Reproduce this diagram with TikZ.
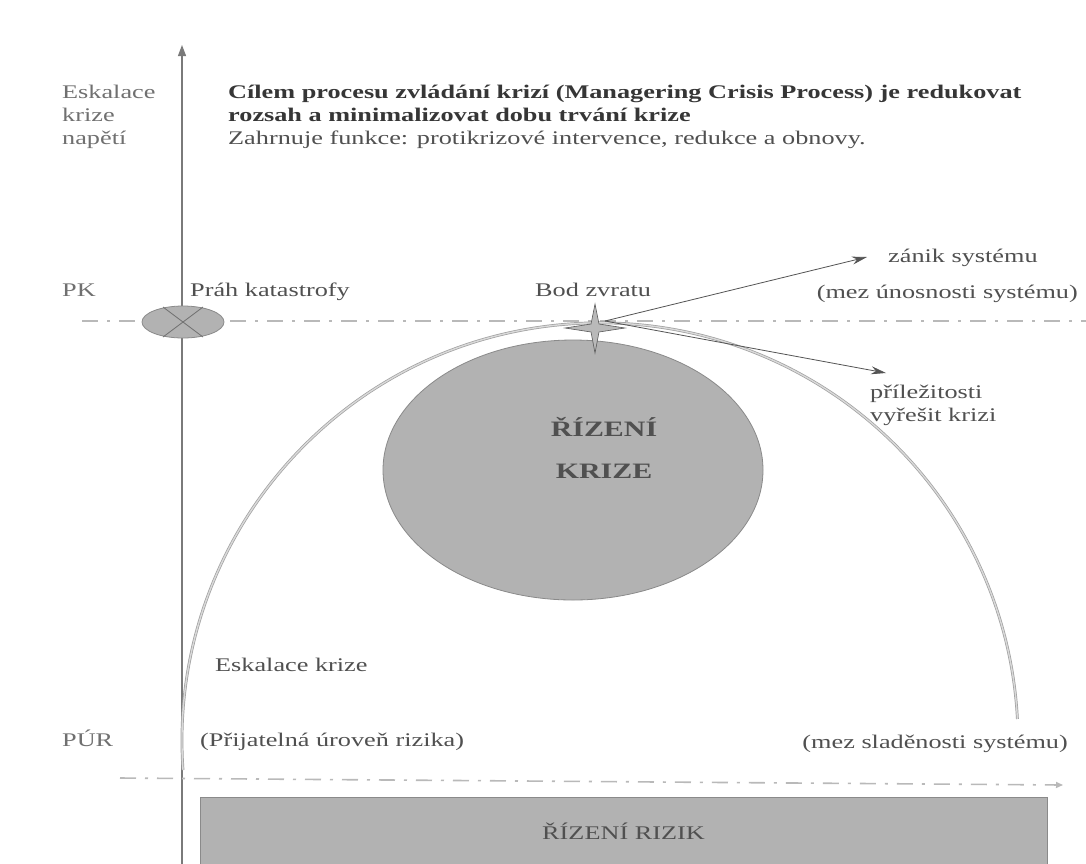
\documentclass[tikz,border=0pt]{standalone}
\usepackage{fontspec}
\setmainfont{Liberation Serif}[FakeStretch=1.36]
\usetikzlibrary{arrows.meta,shapes.geometric,calc}
\definecolor{lightlbl}{HTML}{707070}
\definecolor{midtxt}{HTML}{505050}
\definecolor{darktxt}{HTML}{363636}
\definecolor{linegray}{HTML}{7A7A7A}
\definecolor{fillgray}{HTML}{B2B2B2}
\definecolor{edgegray}{HTML}{8A8A8A}
\begin{document}
\begin{tikzpicture}[x=1pt,y=-1pt,
  txt/.style={font=\fontsize{19.3}{23}\selectfont, inner sep=0pt, anchor=base west, text=midtxt},
  sidelbl/.style={txt, text=lightlbl},
  titletxt/.style={txt, font=\fontsize{19.3}{23}\selectfont\bfseries, text=darktxt},
  axisline/.style={draw=linegray, line width=1.2pt},
  dashdot/.style={draw=gray!55, line width=1.6pt, dash pattern=on 16pt off 9pt on 3pt off 9pt},
  arcline/.style={draw=gray!75, double=gray!30, line width=0.7pt, double distance=1.4pt},
  pointer/.style={draw=darktxt!85, line width=0.8pt, -{Stealth[length=15pt,width=8pt]}},
  blob/.style={ellipse, fill=fillgray, draw=edgegray, line width=0.8pt, inner sep=0pt},
  bigtxt/.style={font=\fontsize{22}{26}\selectfont\bfseries, text=midtxt, inner sep=0pt, anchor=base}
]
\useasboundingbox[fill=white] (0,0) rectangle (1086,863);

% vertical axis
\coordinate (axb) at (182,866);
\coordinate (axt) at (182,45);
\draw[axisline, -{Triangle[length=11pt,width=8pt]}] (axb) -- (axt);

% side labels of the axis
\node[sidelbl] (esk1) at (62,98) {Eskalace};
\node[sidelbl] (esk2) at (62,121) {krize};
\node[sidelbl] (esk3) at (62,144) {napětí};

% heading
\node[titletxt] (t1) at (228,98) {Cílem procesu zvládání krizí (Managering Crisis Process) je redukovat};
\node[titletxt] (t2) at (228,121) {rozsah a minimalizovat dobu trvání krize};
\node[txt] (t3) at (228,144) {Zahrnuje funkce: protikrizové intervence, redukce a obnovy.};

% upper threshold line
\coordinate (pkl) at (82,321);
\coordinate (pkr) at (1086,321);
\draw[dashdot] (pkl) -- (pkr);

\node[sidelbl] (pk) at (62,296) {PK};
\node[txt] (prah) at (190,296) {Práh katastrofy};
\node[txt] (bod) at (535,296) {Bod zvratu};
\node[txt, anchor=base east] (mezu) at (1078,298) {(mez únosnosti systému)};
\node[txt] (zanik) at (888,262) {zánik systému};

% crossed marker on the axis
\node[blob, minimum width=82pt, minimum height=32pt] (cross) at (183,322) {};
\draw[draw=edgegray!80!black, line width=0.8pt]
  ($(cross)+(-20,-15)$) -- ($(cross)+(20,15)$)
  ($(cross)+(20,-15)$) -- ($(cross)+(-20,15)$);

% crisis arc
\coordinate (arcstart) at (183,770);
\draw[arcline] (arcstart) arc[start angle=176, end angle=357, radius=418];

% central ellipse
\node[blob, minimum width=380pt, minimum height=260pt] (rk) at (573,470) {};
\node[bigtxt] (rk1) at (604,436) {ŘÍZENÍ};
\node[bigtxt] (rk2) at (604,478) {KRIZE};

% turning point star
\coordinate (bz) at (595,328);
\draw[fill=gray!55, draw=gray!70!black, line width=0.6pt]
  ($(bz)+(0,-24)$) -- ($(bz)+(4,-4)$) -- ($(bz)+(30,0)$) -- ($(bz)+(4,4)$) --
  ($(bz)+(0,25)$) -- ($(bz)+(-4,4)$) -- ($(bz)+(-30,0)$) -- ($(bz)+(-4,-4)$) -- cycle;

% outcome arrows
\coordinate (bzo) at (605,321);
\coordinate (endz) at (867,257);
\coordinate (endp) at (886,373);
\draw[pointer] (bzo) -- (endz);
\draw[pointer] (bzo) -- (endp);

\node[txt] (pri1) at (870,398) {příležitosti};
\node[txt] (pri2) at (870,421) {vyřešit krizi};

% lower labels
\node[txt] (eskk) at (215,671) {Eskalace krize};
\node[sidelbl] (pur) at (62,746) {PÚR};
\node[txt] (prij) at (200,746) {(Přijatelná úroveň rizika)};
\node[txt, anchor=base east] (mezs) at (1068,748) {(mez sladěnosti systému)};

% lower threshold line
\coordinate (purl) at (120,778);
\coordinate (purr) at (1063,785);
\draw[dashdot, -{Triangle[length=7pt,width=6pt]}] (purl) -- (purr);

% risk management bar
\node[draw=edgegray, line width=0.8pt, fill=fillgray, minimum width=847pt, minimum height=68pt,
      inner sep=0pt, font=\fontsize{19.3}{23}\selectfont, text=midtxt] (rr) at (623.5,831) {ŘÍZENÍ RIZIK};
\end{tikzpicture}
\end{document}
